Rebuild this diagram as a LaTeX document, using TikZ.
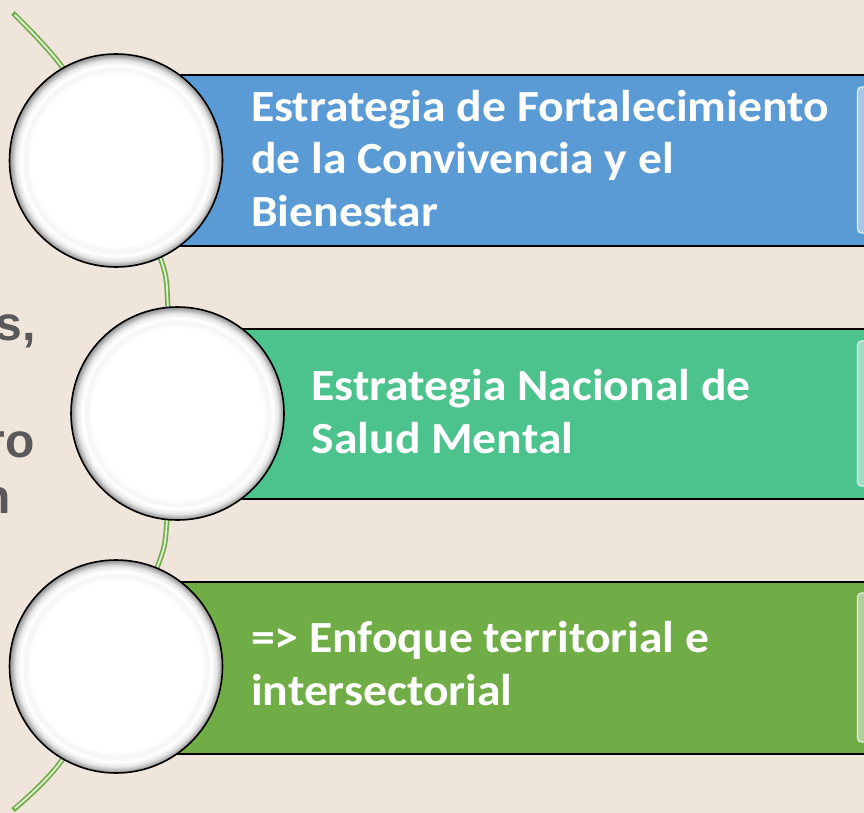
\documentclass[tikz,border=0pt]{standalone}
\usepackage{fontspec}
\setmainfont{Carlito}
\newfontfamily\leftfont{Liberation Sans}
\definecolor{bgc}{HTML}{EFE5DA}
\definecolor{cblue}{HTML}{5B9BD5}
\definecolor{cmint}{HTML}{4CC28C}
\definecolor{cgreen}{HTML}{70AD47}
\definecolor{lgrey}{HTML}{595959}
\pgfdeclareradialshading{bubble}{\pgfpointorigin}{color(0bp)=(white); color(20bp)=(white); color(21.4bp)=(black!4); color(22.4bp)=(white); color(23.6bp)=(black!10); color(25bp)=(black!45); color(50bp)=(black!45)}
\tikzset{
  bubble/.style={circle, minimum size=213pt, inner sep=0pt, draw=black, line width=1.6pt, shading=bubble},
  band/.style={rectangle, minimum width=800pt, minimum height=#1, inner sep=0pt, draw=black, line width=1.8pt, anchor=north west},
  bar/.style={rounded corners=4pt, line width=1.2pt},
  label/.style={anchor=base west, align=left, inner sep=0pt, text=white, font=\bfseries\addfontfeature{FakeStretch=1.07}\fontsize{44.5}{52.5}\selectfont},
  side/.style={anchor=base east, inner sep=0pt, text=lgrey, font=\leftfont\bfseries\fontsize{48}{57}\selectfont},
  arcouter/.style={draw=cgreen, line width=5.2pt},
  arcinner/.style={draw=cgreen!22!white, line width=1.8pt}
}
\begin{document}
\begin{tikzpicture}[x=1pt,y=-1pt]
\useasboundingbox (0,0) rectangle (864,813);
\fill[bgc] (0,0) rectangle (864,813);
% side text (cut off at the left edge, as in the reference)
\node[side] (s1) at (36,340) {s,};
\node[side] (s2) at (35,457) {ro};
\node[side] (s3) at (11,513) {n};
% arc
\draw[arcouter] plot[smooth, tension=0.55] coordinates {(13,13) (63,68) (112,150) (160,257) (168,307) (172,413) (167,520) (158,565) (112,665) (62,760) (13,810)};
\draw[arcinner] plot[smooth, tension=0.55] coordinates {(14.8,14.8) (63,68) (112,150) (160,257) (168,307) (172,413) (167,520) (158,565) (112,665) (62,760) (14.8,808.2)};
% bands
\node[band=171pt, fill=cblue] (r1) at (116,74) {};
\node[band=170pt, fill=cmint] (r2) at (177,328) {};
\node[band=172pt, fill=cgreen] (r3) at (116,581) {};
\fill[bar, fill=cblue!55!white, draw=cblue!15!white] (857.5,87) rectangle (880,233);
\fill[bar, fill=cmint!55!white, draw=cmint!15!white] (857.5,341) rectangle (880,486);
\fill[bar, fill=cgreen!55!white, draw=cgreen!15!white] (857.5,593) rectangle (880,742);
% texts (base anchor = last line)
\node[label] (t1) at (251,226) {Estrategia de Fortalecimiento\\de la Convivencia y el\\Bienestar};
\node[label] (t2) at (311.5,453) {Estrategia Nacional de\\Salud Mental};
\node[label] (t3) at (251,705) {=> Enfoque territorial e\\intersectorial};
% bubbles
\node[bubble] (c1) at (116,160.5) {};
\node[bubble] (c2) at (177.5,413.5) {};
\node[bubble] (c3) at (116,666.5) {};
\end{tikzpicture}
\end{document}
